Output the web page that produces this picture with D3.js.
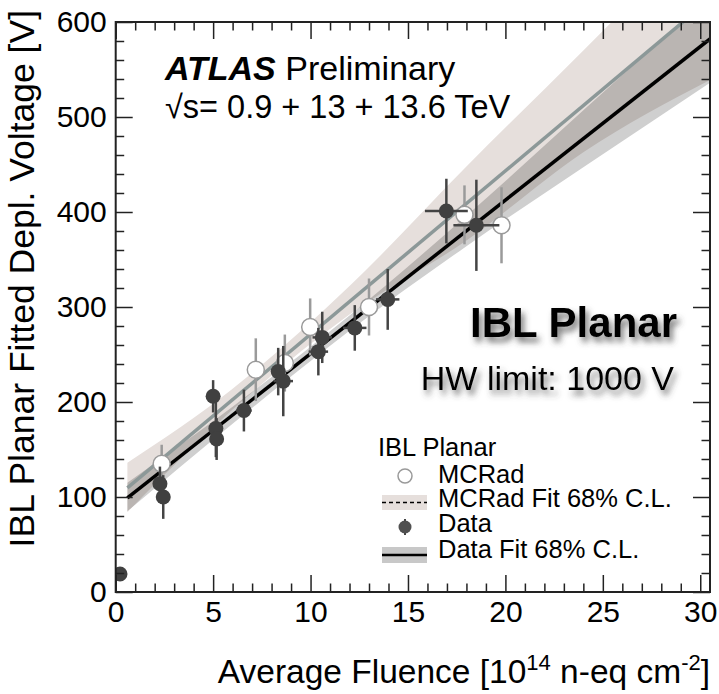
<!DOCTYPE html>
<html>
<head>
<meta charset="utf-8">
<script src="https://cdn.jsdelivr.net/npm/d3@7"></script>
<style>
  body { margin: 0; background: #fff; }
  text { font-family: 'Liberation Sans', Arial, Helvetica, sans-serif; fill: #000; }
</style>
</head>
<body>
<svg id="viz"></svg>
<script>
// Data points (fluence in 1e14 n-eq/cm2, fitted depletion voltage in V)
const dataFluence = [0.22, 2.27, 2.44, 5.0, 5.14, 5.18, 6.58, 8.34, 8.6, 10.4, 10.6, 12.27, 13.96, 16.97, 18.51];
const dataVoltage = [19, 114, 100, 206, 172, 161, 191, 232, 222, 253, 268, 278, 308, 401, 386];
const dataErrV = [0, 18, 23, 17, 30, 22, 22, 25, 37, 25, 27, 24, 32, 34, 48];
const dataErrF = [0, 0, 0, 0, 0, 0, 0.4, 0.35, 0.5, 0.5, 0.5, 0.6, 0.6, 1.1, 1.18];

// MCRad simulation points
const mcFluence = [2.36, 7.19, 8.68, 9.98, 13.0, 17.9, 19.8];
const mcVoltage = [135, 234, 241, 279, 300, 397, 386];
const mcErrV = [20, 33, 30, 30, 30, 31, 40];

// fit lines [intercept, slope] and 68% C.L. bands read at a few fluences
const mcFit = [99.3, 17.2];
const dataFit = [89.3, 16.16];
const fitRange = [0.6, 30.5];
const bandFluence = [0.6, 6, 12, 18, 24, 30.5];
const mcBandLo = [84, 192, 292, 370, 463, 539];
const mcBandHi = [136, 214, 322, 448, 570, 705];
const dataBandLo = [85, 177, 275, 364, 447, 536];
const dataBandHi = [115, 195, 291, 396, 507, 628];

const xMajor = [0, 5, 10, 15, 20, 25, 30];
const yMajor = [0, 100, 200, 300, 400, 500, 600];

const W = 719, H = 694;
const plot = { left: 115.7, right: 710, top: 22, bottom: 592 };

const svg = d3.select('#viz').attr('width', W).attr('height', H);
svg.append('rect').attr('width', W).attr('height', H).attr('fill', '#fff');

const defs = svg.append('defs');
defs.append('clipPath').attr('id', 'clip')
  .append('rect')
  .attr('x', plot.left).attr('y', plot.top)
  .attr('width', plot.right - plot.left).attr('height', plot.bottom - plot.top);

const shadow = defs.append('filter').attr('id', 'shadow')
  .attr('x', '-10%').attr('y', '-20%').attr('width', '130%').attr('height', '160%');
shadow.append('feDropShadow')
  .attr('dx', 3).attr('dy', 5).attr('stdDeviation', 3)
  .attr('flood-color', '#444').attr('flood-opacity', 0.75);

const x = d3.scaleLinear().domain([0, 30.5]).range([plot.left, plot.right]);
const y = d3.scaleLinear().domain([0, 600]).range([plot.bottom, plot.top]);

const g = svg.append('g').attr('clip-path', 'url(#clip)');

// bands
const band = (lo, hi) => d3.area()
  .x((d, i) => x(bandFluence[i]))
  .y0((d, i) => y(lo[i]))
  .y1((d, i) => y(hi[i]))
  .curve(d3.curveMonotoneX)(bandFluence);

g.append('path').attr('d', band(mcBandLo, mcBandHi)).attr('fill', '#e6dfdc');
g.append('path').attr('d', band(dataBandLo, dataBandHi))
  .attr('fill', '#cfcfcf').style('mix-blend-mode', 'multiply');

// fit lines
const fitLine = (p) => d3.line()
  .x((d) => x(d))
  .y((d) => y(p[0] + p[1] * d))(fitRange);

g.append('path').attr('d', fitLine(mcFit))
  .attr('fill', 'none').attr('stroke', '#8c9898').attr('stroke-width', 3.5);
g.append('path').attr('d', fitLine(dataFit))
  .attr('fill', 'none').attr('stroke', '#000').attr('stroke-width', 3.5);

// MCRad points
g.append('g').selectAll('line')
  .data(mcFluence)
  .join('line')
  .attr('x1', (d) => x(d)).attr('x2', (d) => x(d))
  .attr('y1', (d, i) => y(mcVoltage[i] - mcErrV[i]))
  .attr('y2', (d, i) => y(mcVoltage[i] + mcErrV[i]))
  .attr('stroke', '#9a9a9a').attr('stroke-width', 2.5);

g.append('g').selectAll('circle')
  .data(mcFluence)
  .join('circle')
  .attr('cx', (d) => x(d))
  .attr('cy', (d, i) => y(mcVoltage[i]))
  .attr('r', 8.5)
  .attr('fill', '#fff')
  .attr('stroke', '#9a9a9a')
  .attr('stroke-width', 1.5);

// Data points
const dataG = g.append('g');
dataG.selectAll('.ev')
  .data(dataFluence)
  .join('line')
  .attr('class', 'ev')
  .attr('x1', (d) => x(d)).attr('x2', (d) => x(d))
  .attr('y1', (d, i) => y(dataVoltage[i] - dataErrV[i]))
  .attr('y2', (d, i) => y(dataVoltage[i] + dataErrV[i]))
  .attr('stroke', '#444').attr('stroke-width', 2.5);
dataG.selectAll('.ef')
  .data(dataFluence)
  .join('line')
  .attr('class', 'ef')
  .attr('x1', (d, i) => x(d - dataErrF[i])).attr('x2', (d, i) => x(d + dataErrF[i]))
  .attr('y1', (d, i) => y(dataVoltage[i]))
  .attr('y2', (d, i) => y(dataVoltage[i]))
  .attr('stroke', '#444').attr('stroke-width', 2.5);
dataG.selectAll('circle')
  .data(dataFluence)
  .join('circle')
  .attr('cx', (d) => x(d))
  .attr('cy', (d, i) => y(dataVoltage[i]))
  .attr('r', 7.5)
  .attr('fill', '#404040');

// frame + ticks (ROOT style, inward on all four sides)
const xMinor = d3.range(0, 31, 1).filter((v) => v % 5 != 0);
const yMinor = d3.range(0, 601, 20).filter((v) => v % 100 != 0);

const axes = svg.append('g');
const addAxis = (axisFn, scale, ty, tx, values, size, labels) => {
  const a = axes.append('g')
    .attr('transform', 'translate(' + tx + ',' + ty + ')')
    .call(axisFn(scale).tickValues(values).tickSize(-size).tickSizeOuter(0)
      .tickPadding(labels ? 9 : 0).tickFormat(labels ? d3.format('d') : ''));
  a.select('.domain').remove();
  a.selectAll('line').attr('stroke', '#222').attr('stroke-width', 1.5);
  a.selectAll('text').style('font-size', '30px')
    .style('font-family', "'Liberation Sans', Arial, sans-serif").attr('fill', '#000');
  return a;
};

addAxis(d3.axisBottom, x, plot.bottom, 0, xMajor, 17, true);
addAxis(d3.axisBottom, x, plot.bottom, 0, xMinor, 8.5, false);
addAxis(d3.axisTop, x, plot.top, 0, xMajor, 17, false);
addAxis(d3.axisTop, x, plot.top, 0, xMinor, 8.5, false);
addAxis(d3.axisLeft, y, 0, plot.left, yMajor, 17, true);
addAxis(d3.axisLeft, y, 0, plot.left, yMinor, 8.5, false);
addAxis(d3.axisRight, y, 0, plot.right, yMajor, 17, false);
addAxis(d3.axisRight, y, 0, plot.right, yMinor, 8.5, false);

axes.append('rect')
  .attr('x', plot.left).attr('y', plot.top)
  .attr('width', plot.right - plot.left).attr('height', plot.bottom - plot.top)
  .attr('fill', 'none').attr('stroke', '#222').attr('stroke-width', 2);

// axis titles
const xTitle = svg.append('text')
  .attr('x', plot.right).attr('y', 683)
  .attr('text-anchor', 'end')
  .style('font-size', '33.5px');
xTitle.append('tspan').text('Average Fluence [10');
xTitle.append('tspan').attr('dy', -13).style('font-size', '22px').text('14');
xTitle.append('tspan').attr('dy', 13).text(' n-eq cm');
xTitle.append('tspan').attr('dy', -13).style('font-size', '22px').text('-2');
xTitle.append('tspan').attr('dy', 13).text(']');

svg.append('text')
  .attr('transform', 'translate(34,' + 10 + ') rotate(-90)')
  .attr('text-anchor', 'end')
  .style('font-size', '35.5px')
  .text('IBL Planar Fitted Depl. Voltage [V]');

// ATLAS label
const atlas = svg.append('text').attr('x', 165).attr('y', 80).style('font-size', '34px');
atlas.append('tspan').style('font-weight', 'bold').style('font-style', 'italic').text('ATLAS');
atlas.append('tspan').text(' Preliminary');

svg.append('text').attr('x', 165).attr('y', 118).style('font-size', '32.5px')
  .text('\u221As= 0.9 + 13 + 13.6 TeV');

svg.append('text')
  .attr('x', 677).attr('y', 337)
  .attr('text-anchor', 'end')
  .attr('filter', 'url(#shadow)')
  .style('font-size', '42px').style('font-weight', 'bold')
  .text('IBL Planar');

svg.append('text')
  .attr('x', 674).attr('y', 390)
  .attr('text-anchor', 'end')
  .attr('filter', 'url(#shadow)')
  .style('font-size', '34px')
  .text('HW limit: 1000 V');

// Legend
const leg = svg.append('g').style('font-size', '25.5px');
leg.append('text').attr('x', 378).attr('y', 456).text('IBL Planar');

leg.append('circle').attr('cx', 405).attr('cy', 476).attr('r', 7)
  .attr('fill', '#fff').attr('stroke', '#9a9a9a').attr('stroke-width', 1.5);
leg.append('text').attr('x', 438).attr('y', 483).text('MCRad');

leg.append('rect').attr('x', 382).attr('y', 495).attr('width', 45).attr('height', 15).attr('fill', '#e6dfdc');
leg.append('line').attr('x1', 382).attr('x2', 427).attr('y1', 502.5).attr('y2', 502.5)
  .attr('stroke', '#000').attr('stroke-width', 1.5).attr('stroke-dasharray', '4,3');
leg.append('text').attr('x', 438).attr('y', 507).text('MCRad Fit 68% C.L.');

leg.append('line').attr('x1', 405).attr('x2', 405).attr('y1', 519).attr('y2', 535)
  .attr('stroke', '#444').attr('stroke-width', 2);
leg.append('circle').attr('cx', 405).attr('cy', 527).attr('r', 6.5).attr('fill', '#505050');
leg.append('text').attr('x', 438).attr('y', 532).text('Data');

leg.append('rect').attr('x', 382).attr('y', 547).attr('width', 45).attr('height', 16).attr('fill', '#c8c8c8');
leg.append('line').attr('x1', 382).attr('x2', 427).attr('y1', 555).attr('y2', 555)
  .attr('stroke', '#000').attr('stroke-width', 2.5);
leg.append('text').attr('x', 438).attr('y', 558).text('Data Fit 68% C.L.');
</script>
</body>
</html>
